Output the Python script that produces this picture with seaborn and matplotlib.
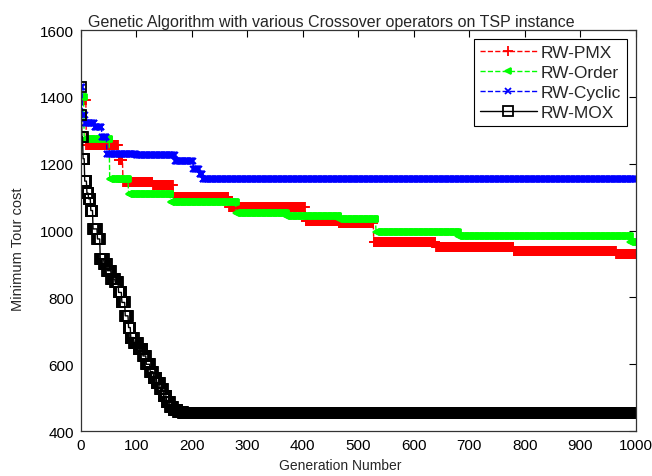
import numpy as np
import pandas as pd
import matplotlib
matplotlib.use("Agg")
import matplotlib.pyplot as plt
import seaborn as sns

# Step breakpoints: (generation where value starts, cost)
pmx_gen = [0, 10, 68, 76, 130, 167, 267, 405, 465, 528, 640, 780, 965]
pmx_cost = [1390, 1255, 1210, 1145, 1135, 1100, 1072, 1030, 1022, 965, 950, 938, 930]

order_gen = [0, 6, 52, 86, 162, 280, 370, 465, 532, 680, 990]
order_cost = [1400, 1275, 1155, 1108, 1085, 1052, 1045, 1035, 995, 983, 965]

cyclic_gen = [0, 3, 8, 25, 38, 47, 100, 170, 203, 214, 220]
cyclic_cost = [1430, 1345, 1322, 1310, 1280, 1230, 1225, 1208, 1185, 1170, 1155]

mox_gen = [0, 1, 2, 4, 7, 11, 14, 18, 22, 30, 35, 42, 48, 55, 62, 68, 74, 80,
           86, 90, 96, 104, 112, 118, 125, 131, 137, 143, 149, 155, 161, 167,
           175, 185]
mox_cost = [1430, 1345, 1280, 1215, 1148, 1112, 1095, 1060, 1005, 975, 915, 900,
            880, 855, 845, 815, 785, 745, 710, 680, 665, 645, 625, 600, 578, 560,
            545, 525, 505, 488, 472, 462, 456, 453]

generations = np.arange(0, 1001)


def hold(gen, cost):
    # best-so-far cost stays the same until the next improvement
    idx = np.searchsorted(gen, generations, side="right") - 1
    return np.asarray(cost)[idx]


series = {
    "RW-PMX": hold(pmx_gen, pmx_cost),
    "RW-Order": hold(order_gen, order_cost),
    "RW-Cyclic": hold(cyclic_gen, cyclic_cost),
    "RW-MOX": hold(mox_gen, mox_cost),
}
df = pd.DataFrame(series)
df["gen"] = generations

sns.set_style("white")
plt.rcParams["font.family"] = ["Liberation Sans", "DejaVu Sans"]

fig = plt.figure(figsize=(6.52, 4.77), dpi=100)
ax = fig.add_axes([0.124, 0.094, 0.851, 0.841])

styles = {
    "RW-PMX": dict(color="red", linestyle="--", marker="+", markersize=7),
    "RW-Order": dict(color="#00ff00", linestyle="--", marker="<", markersize=4),
    "RW-Cyclic": dict(color="blue", linestyle="--", marker="x", markersize=5),
    "RW-MOX": dict(color="black", linestyle="-", marker="s", markersize=7.5,
                   markerfacecolor="none"),
}
for name, st in styles.items():
    sns.lineplot(data=df, x="gen", y=name, ax=ax, label=name, linewidth=1.0,
                 markeredgewidth=1.3, markeredgecolor=st["color"], **st)

ax.set_xlim(0, 1000)
ax.set_ylim(400, 1600)
ax.set_xticks(range(0, 1001, 100))
ax.set_yticks(range(400, 1601, 200))
ax.tick_params(direction="in", top=True, right=True, length=5, width=0.8,
               labelsize=11, pad=5, colors="black")
for sp in ax.spines.values():
    sp.set_color("#333333")
    sp.set_linewidth(0.9)

ax.set_title("Genetic Algorithm with various Crossover operators on TSP instance",
             fontsize=11.5, x=0.452, pad=3)
ax.set_xlabel("Generation Number", fontsize=10, labelpad=0)
ax.xaxis.set_label_coords(0.468, -0.066)
ax.set_ylabel("Minimum Tour cost", fontsize=10.5, labelpad=4)
ax.yaxis.set_label_coords(-0.1, 0.455)

leg = ax.legend(loc="upper right", fontsize=12.5, numpoints=1, handlelength=3.3,
                handletextpad=0.2, borderaxespad=0.5, fancybox=False,
                framealpha=1, edgecolor="black", borderpad=0.35, labelspacing=0.28)
leg.get_frame().set_linewidth(0.8)

fig.savefig("out.png", dpi=100)
